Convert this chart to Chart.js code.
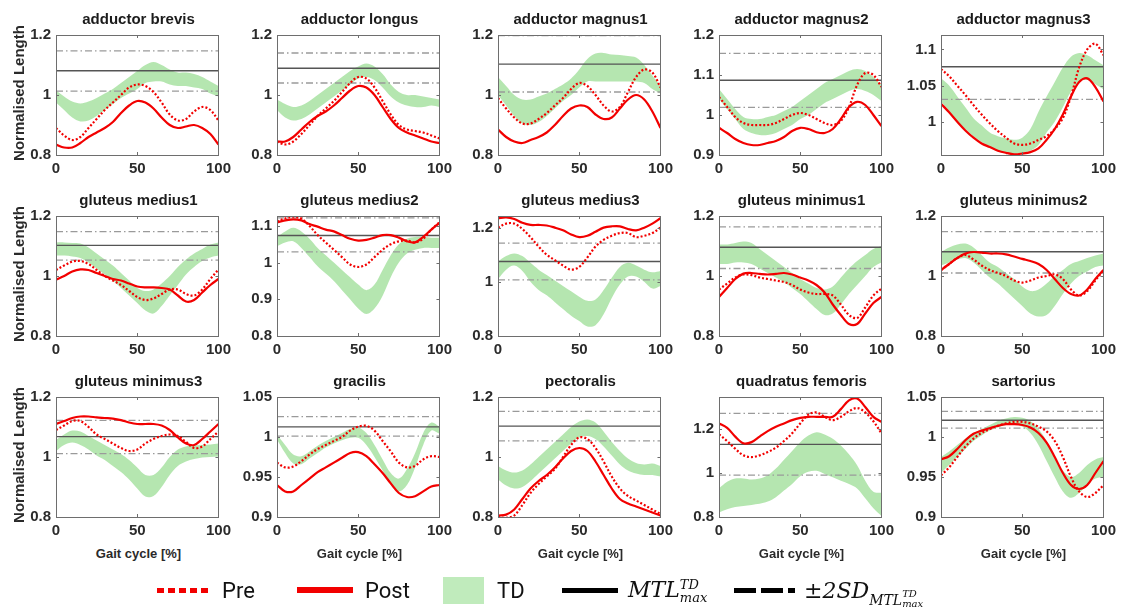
<!DOCTYPE html>
<html>
<head>
<meta charset="utf-8">
<script src="https://cdn.jsdelivr.net/npm/chart.js@4.4.0/dist/chart.umd.min.js"></script>
<style>
  html, body { margin: 0; padding: 0; background: #fff; }
  body { width: 1122px; height: 613px; position: relative; overflow: hidden;
         font-family: "Liberation Sans", Arial, sans-serif; }
  canvas { position: absolute; }
  .title { position: absolute; font-weight: bold; font-size: 15px; color: #1b1b1b;
           white-space: nowrap; transform: translate(-50%, -50%); }
  .ylab { position: absolute; font-weight: bold; font-size: 15px; color: #2a2a2a;
          white-space: nowrap; transform: translate(-50%, -50%) rotate(-90deg); }
  .xlab { position: absolute; font-weight: bold; font-size: 13px; color: #2a2a2a;
          white-space: nowrap; transform: translate(-50%, -50%); }
  .lg { position: absolute; }
  .lgtext { position: absolute; font-family: "Liberation Sans Narrow", "Roboto", sans-serif;
            font-size: 22px; color: #111; transform: translateY(-50%); white-space: nowrap; }
  .math { position: absolute; font-family: "DejaVu Serif", "Liberation Serif", serif; font-style: italic;
          font-size: 22px; color: #111; transform: translateY(-50%); white-space: nowrap; }
  .stack { display: inline-block; vertical-align: middle; line-height: 1; font-size: 13px; }
  .stack span { display: block; }
</style>
</head>
<body>
<script>
// Gait cycle sample points (% of cycle)
const gaitCycle = [0,5,10,15,20,25,30,35,40,45,50,55,60,65,70,75,80,85,90,95,100];

const muscles = [
  'adductor brevis', 'adductor longus', 'adductor magnus1', 'adductor magnus2', 'adductor magnus3',
  'gluteus medius1', 'gluteus medius2', 'gluteus medius3', 'gluteus minimus1', 'gluteus minimus2',
  'gluteus minimus3', 'gracilis', 'pectoralis', 'quadratus femoris', 'sartorius'
];

// Normalised muscle-tendon length, pre-operative
const preLength = [
  [0.89,0.865,0.85,0.86,0.89,0.92,0.95,0.975,1.0,1.025,1.035,1.03,1.01,0.975,0.935,0.915,0.92,0.945,0.96,0.95,0.915],
  [0.845,0.835,0.845,0.87,0.9,0.93,0.955,0.98,1.01,1.04,1.06,1.055,1.025,0.98,0.935,0.9,0.885,0.88,0.875,0.865,0.855],
  [0.99,0.955,0.925,0.905,0.905,0.92,0.94,0.965,0.99,1.02,1.04,1.03,1.0,0.965,0.945,0.96,1.01,1.06,1.085,1.075,1.025],
  [1.045,1.02,0.995,0.98,0.975,0.975,0.975,0.98,0.99,1.0,1.005,1.0,0.99,0.98,0.975,0.985,1.02,1.075,1.105,1.1,1.07],
  [1.073,1.063,1.05,1.037,1.023,1.01,0.998,0.987,0.978,0.97,0.968,0.97,0.975,0.98,0.99,1.005,1.035,1.075,1.1,1.108,1.092],
  [1.02,1.035,1.048,1.05,1.04,1.02,1.0,0.985,0.97,0.95,0.93,0.92,0.925,0.94,0.955,0.955,0.94,0.935,0.955,0.99,1.022],
  [1.112,1.12,1.125,1.12,1.1,1.075,1.055,1.035,1.015,0.995,0.988,0.995,1.015,1.035,1.05,1.058,1.06,1.055,1.065,1.09,1.11],
  [1.2,1.215,1.215,1.195,1.165,1.13,1.1,1.08,1.06,1.045,1.055,1.09,1.13,1.155,1.17,1.18,1.18,1.165,1.17,1.18,1.2],
  [0.955,0.975,0.995,1.005,1.003,0.995,0.99,0.985,0.98,0.97,0.955,0.945,0.94,0.94,0.935,0.905,0.87,0.86,0.895,0.935,0.958],
  [1.02,1.04,1.06,1.07,1.055,1.035,1.02,1.01,1.0,0.985,0.978,0.985,0.995,1.0,1.005,0.99,0.955,0.935,0.95,0.985,1.02],
  [1.09,1.105,1.12,1.12,1.1,1.075,1.06,1.045,1.03,1.02,1.025,1.045,1.06,1.07,1.075,1.07,1.05,1.03,1.035,1.06,1.085],
  [0.968,0.962,0.963,0.97,0.978,0.985,0.99,0.995,1.0,1.008,1.013,1.014,1.008,0.995,0.982,0.968,0.962,0.964,0.972,0.976,0.975],
  [0.8,0.797,0.805,0.84,0.88,0.91,0.935,0.96,1.0,1.04,1.065,1.06,1.03,0.985,0.935,0.895,0.87,0.855,0.84,0.825,0.81],
  [1.175,1.145,1.11,1.08,1.072,1.08,1.095,1.115,1.145,1.18,1.225,1.265,1.275,1.255,1.24,1.255,1.28,1.295,1.275,1.235,1.18],
  [0.952,0.962,0.975,0.988,0.998,1.005,1.01,1.014,1.017,1.019,1.019,1.017,1.013,1.007,0.995,0.975,0.95,0.932,0.925,0.93,0.94]
];

// Normalised muscle-tendon length, post-operative
const postLength = [
  [0.835,0.825,0.825,0.84,0.86,0.875,0.89,0.91,0.94,0.965,0.98,0.975,0.955,0.925,0.9,0.89,0.895,0.9,0.89,0.87,0.835],
  [0.845,0.845,0.86,0.885,0.91,0.93,0.945,0.965,0.99,1.015,1.03,1.025,1.0,0.96,0.92,0.89,0.875,0.865,0.855,0.845,0.84],
  [0.885,0.86,0.845,0.84,0.85,0.86,0.875,0.9,0.93,0.955,0.965,0.96,0.935,0.92,0.925,0.955,0.985,1.0,0.985,0.945,0.89],
  [0.968,0.955,0.94,0.93,0.925,0.925,0.93,0.935,0.945,0.96,0.968,0.965,0.957,0.955,0.965,0.99,1.02,1.033,1.025,1.0,0.972],
  [1.025,1.013,1.0,0.988,0.978,0.97,0.965,0.96,0.957,0.955,0.956,0.958,0.963,0.975,0.99,1.01,1.035,1.055,1.06,1.048,1.028],
  [0.988,1.0,1.015,1.022,1.02,1.01,1.0,0.99,0.985,0.975,0.965,0.962,0.962,0.96,0.955,0.935,0.915,0.92,0.945,0.97,0.99],
  [1.11,1.115,1.118,1.115,1.105,1.098,1.09,1.085,1.075,1.065,1.06,1.062,1.068,1.075,1.075,1.068,1.058,1.055,1.07,1.09,1.108],
  [1.235,1.238,1.232,1.218,1.21,1.21,1.208,1.2,1.19,1.175,1.165,1.17,1.185,1.2,1.205,1.205,1.195,1.19,1.2,1.215,1.235],
  [0.93,0.96,0.99,1.008,1.01,1.007,1.005,1.007,1.01,1.005,0.995,0.985,0.97,0.945,0.905,0.87,0.84,0.84,0.875,0.91,0.93],
  [1.02,1.04,1.06,1.075,1.08,1.078,1.075,1.075,1.072,1.065,1.057,1.05,1.04,1.02,0.99,0.96,0.94,0.935,0.955,0.99,1.02],
  [1.11,1.12,1.13,1.135,1.135,1.132,1.13,1.128,1.123,1.115,1.11,1.11,1.11,1.105,1.09,1.065,1.045,1.04,1.06,1.085,1.11],
  [0.94,0.932,0.932,0.94,0.948,0.956,0.962,0.968,0.974,0.98,0.981,0.976,0.966,0.955,0.942,0.93,0.925,0.926,0.932,0.938,0.94],
  [0.805,0.808,0.825,0.86,0.895,0.92,0.94,0.965,0.995,1.02,1.03,1.02,0.985,0.94,0.895,0.86,0.845,0.835,0.825,0.815,0.805],
  [1.225,1.205,1.165,1.135,1.14,1.165,1.19,1.21,1.225,1.24,1.25,1.255,1.255,1.255,1.255,1.29,1.33,1.338,1.3,1.255,1.232],
  [0.972,0.976,0.985,0.996,1.004,1.008,1.011,1.014,1.016,1.016,1.015,1.012,1.005,0.993,0.975,0.955,0.94,0.935,0.94,0.955,0.97]
];

// Typically developing range: upper and lower boundary of the band
const tdUpper = [
  [1.015,0.995,0.978,0.972,0.978,0.99,1.005,1.02,1.04,1.06,1.08,1.1,1.11,1.1,1.085,1.075,1.075,1.07,1.06,1.045,1.03],
  [0.985,0.97,0.96,0.965,0.98,1.0,1.02,1.04,1.06,1.08,1.095,1.105,1.095,1.07,1.035,1.01,1.0,1.0,0.995,0.99,0.985],
  [1.06,1.03,1.0,0.985,0.985,0.995,1.005,1.02,1.035,1.055,1.085,1.12,1.138,1.14,1.135,1.133,1.13,1.125,1.1,1.065,1.03],
  [1.065,1.04,1.015,0.995,0.99,0.99,0.995,1.0,1.01,1.02,1.035,1.05,1.065,1.08,1.09,1.1,1.11,1.115,1.11,1.095,1.075],
  [1.06,1.05,1.035,1.02,1.005,0.995,0.985,0.98,0.977,0.975,0.978,0.99,1.014,1.035,1.055,1.075,1.09,1.095,1.092,1.085,1.078],
  [1.112,1.112,1.11,1.108,1.095,1.075,1.055,1.035,1.01,0.985,0.96,0.95,0.955,0.975,1.0,1.03,1.055,1.075,1.09,1.105,1.112],
  [1.07,1.085,1.095,1.085,1.065,1.04,1.02,1.0,0.98,0.96,0.94,0.925,0.94,0.98,1.02,1.05,1.065,1.07,1.07,1.068,1.068],
  [1.075,1.095,1.105,1.095,1.07,1.045,1.025,1.005,0.985,0.965,0.945,0.93,0.935,0.97,1.015,1.055,1.07,1.06,1.045,1.035,1.04],
  [1.105,1.105,1.11,1.115,1.11,1.09,1.07,1.05,1.03,1.01,0.99,0.975,0.96,0.955,0.965,0.995,1.025,1.05,1.07,1.09,1.1],
  [1.08,1.095,1.105,1.108,1.095,1.07,1.045,1.03,1.01,0.99,0.965,0.95,0.955,0.975,1.0,1.02,1.04,1.05,1.06,1.068,1.075],
  [1.057,1.075,1.088,1.085,1.07,1.055,1.04,1.025,1.01,0.99,0.965,0.94,0.94,0.965,1.0,1.025,1.035,1.038,1.04,1.042,1.045],
  [1.003,0.99,0.978,0.976,0.982,0.989,0.995,1.0,1.005,1.01,1.012,1.005,0.99,0.972,0.955,0.948,0.96,0.98,1.005,1.018,1.013],
  [0.97,0.955,0.948,0.955,0.975,1.0,1.025,1.05,1.075,1.1,1.118,1.125,1.115,1.085,1.05,1.02,0.995,0.98,0.975,0.978,0.97],
  [0.93,0.96,0.975,0.975,0.97,0.975,0.99,1.02,1.06,1.1,1.14,1.17,1.185,1.175,1.155,1.125,1.085,1.035,0.965,0.915,0.91],
  [0.975,0.982,0.99,0.998,1.005,1.01,1.015,1.02,1.023,1.025,1.024,1.02,1.01,0.995,0.975,0.958,0.95,0.955,0.965,0.972,0.975]
];
const tdLower = [
  [0.975,0.95,0.925,0.912,0.915,0.93,0.95,0.97,0.99,1.005,1.02,1.04,1.045,1.045,1.035,1.03,1.03,1.025,1.02,1.005,0.995],
  [0.95,0.925,0.915,0.92,0.935,0.955,0.975,0.995,1.015,1.035,1.055,1.06,1.05,1.025,0.995,0.975,0.965,0.96,0.96,0.965,0.96],
  [1.0,0.965,0.93,0.905,0.9,0.91,0.93,0.955,0.98,1.0,1.025,1.045,1.045,1.045,1.045,1.045,1.045,1.045,1.04,1.02,1.005],
  [1.04,1.015,0.99,0.965,0.955,0.95,0.95,0.955,0.965,0.975,0.99,1.0,1.015,1.03,1.04,1.05,1.06,1.065,1.06,1.05,1.035],
  [1.028,1.015,1.0,0.99,0.98,0.972,0.965,0.96,0.957,0.955,0.957,0.96,0.968,0.985,1.0,1.02,1.042,1.055,1.058,1.052,1.045],
  [1.068,1.068,1.065,1.06,1.045,1.025,1.005,0.985,0.96,0.935,0.91,0.885,0.875,0.9,0.935,0.97,1.005,1.03,1.05,1.062,1.068],
  [1.045,1.055,1.058,1.04,1.015,0.99,0.97,0.95,0.925,0.9,0.875,0.86,0.875,0.91,0.96,1.0,1.025,1.035,1.04,1.04,1.04],
  [1.01,1.045,1.06,1.04,1.0,0.97,0.95,0.925,0.9,0.875,0.855,0.835,0.84,0.88,0.94,0.99,1.02,1.02,1.0,0.975,0.985],
  [1.04,1.04,1.045,1.045,1.04,1.025,1.01,0.995,0.98,0.96,0.94,0.915,0.89,0.87,0.875,0.905,0.94,0.97,1.0,1.03,1.045],
  [1.035,1.045,1.055,1.06,1.045,1.02,0.995,0.975,0.95,0.925,0.9,0.875,0.865,0.87,0.9,0.94,0.975,1.0,1.015,1.03,1.035],
  [1.02,1.04,1.048,1.04,1.025,1.005,0.99,0.97,0.95,0.925,0.895,0.868,0.87,0.9,0.94,0.97,0.985,0.993,0.998,1.0,1.002],
  [0.997,0.98,0.967,0.966,0.973,0.98,0.987,0.992,0.996,0.999,0.999,0.99,0.975,0.958,0.94,0.932,0.94,0.962,0.99,1.008,1.004],
  [0.925,0.905,0.895,0.9,0.92,0.945,0.97,0.995,1.02,1.045,1.065,1.07,1.06,1.035,1.005,0.975,0.955,0.945,0.94,0.94,0.935],
  [0.82,0.835,0.845,0.85,0.855,0.86,0.87,0.89,0.92,0.95,0.985,1.005,1.01,0.995,0.98,0.965,0.95,0.93,0.885,0.84,0.805],
  [0.955,0.965,0.975,0.985,0.995,1.002,1.008,1.012,1.015,1.016,1.013,1.005,0.99,0.97,0.95,0.932,0.924,0.93,0.94,0.948,0.95]
];

// Maximum TD muscle-tendon length and its +/- 2 SD limits
const mtlMax   = [1.081,1.089,1.103,1.087,1.076,1.102,1.074,1.075,1.096,1.081,1.068,1.0126,1.103,1.13,1.021];
const sdUpper  = [1.147,1.14,1.198,1.154,null,1.148,1.122,1.143,1.164,1.148,1.122,1.0255,1.152,1.271,1.032];
const sdLower  = [1.013,1.04,1.01,1.019,1.031,1.053,1.029,1.007,1.025,1.01,1.011,1.001,1.054,0.99,1.011];

// Y-axis limits and tick values per panel
const yMin = [0.8,0.8,0.8,0.9,0.954,0.8,0.8,0.8,0.8,0.8,0.8,0.9,0.8,0.8,0.9];
const yMax = [1.2,1.2,1.2,1.2,1.12,1.2,1.127,1.243,1.2,1.2,1.2,1.05,1.2,1.345,1.05];
const yTicks = [
  [0.8,1,1.2],[0.8,1,1.2],[0.8,1,1.2],[0.9,1,1.1,1.2],[1,1.05,1.1],
  [0.8,1,1.2],[0.8,0.9,1,1.1],[0.8,1,1.2],[0.8,1,1.2],[0.8,1,1.2],
  [0.8,1,1.2],[0.9,0.95,1,1.05],[0.8,1,1.2],[0.8,1,1.2],[0.9,0.95,1,1.05]
];
const xTicks = [0, 50, 100];

// ---- layout of the 3 x 5 grid ----
const colLeft = [56, 277, 498, 719, 941];
const rowTop = [31, 212, 393];
const plotW = 165, plotH = 124;
const padL = 50, padT = 10, padR = 15, xAxisH = 26;

const RED = '#f20000';
const GREEN = 'rgba(168, 226, 162, 0.85)';

// Box around each axes plus small inward tick marks
const axesBox = {
  id: 'axesBox',
  afterDatasetsDraw(chart) {
    const { ctx, chartArea: a, scales } = chart;
    ctx.save();
    ctx.strokeStyle = '#6e6e6e';
    ctx.lineWidth = 1;
    ctx.strokeRect(Math.round(a.left) + 0.5, Math.round(a.top) + 0.5,
                   Math.round(a.right - a.left), Math.round(a.bottom - a.top));
    const t = 3;
    ctx.beginPath();
    scales.y.ticks.forEach(tk => {
      const py = Math.round(scales.y.getPixelForValue(tk.value)) + 0.5;
      ctx.moveTo(a.left, py); ctx.lineTo(a.left + t, py);
      ctx.moveTo(a.right, py); ctx.lineTo(a.right - t, py);
    });
    scales.x.ticks.forEach(tk => {
      const px = Math.round(scales.x.getPixelForValue(tk.value)) + 0.5;
      ctx.moveTo(px, a.bottom); ctx.lineTo(px, a.bottom - t);
      ctx.moveTo(px, a.top); ctx.lineTo(px, a.top + t);
    });
    ctx.stroke();
    ctx.restore();
  }
};

function series(arr) { return gaitCycle.map((x, k) => ({ x: x, y: arr[k] })); }
function flat(v) { return [{ x: 0, y: v }, { x: 100, y: v }]; }
function fmt(v) { return String(+Number(v).toFixed(3)); }

const tickFont = { family: '"Liberation Sans", Arial, sans-serif', size: 15, weight: 'bold' };

muscles.forEach((name, i) => {
  const r = Math.floor(i / 5), c = i % 5;
  const left = colLeft[c], top = rowTop[r];

  const cv = document.createElement('canvas');
  const W = padL + plotW + padR, H = padT + plotH + xAxisH;
  cv.width = W; cv.height = H;
  cv.style.left = (left - padL) + 'px';
  cv.style.top = (top - padT) + 'px';
  cv.style.width = W + 'px'; cv.style.height = H + 'px';
  document.body.appendChild(cv);

  const title = document.createElement('div');
  title.className = 'title';
  title.textContent = name;
  title.style.left = (left + plotW / 2) + 'px';
  title.style.top = (top - 13) + 'px';
  document.body.appendChild(title);

  const line = { pointRadius: 0, fill: false, tension: 0 };
  const datasets = [
    { label: 'TD upper', data: series(tdUpper[i]), borderWidth: 0, borderColor: 'rgba(0,0,0,0)',
      pointRadius: 0, fill: false, tension: 0.35, order: 6 },
    { label: 'TD', data: series(tdLower[i]), borderWidth: 0, borderColor: 'rgba(0,0,0,0)',
      backgroundColor: GREEN, pointRadius: 0, fill: '-1', tension: 0.35, order: 5 },
    { label: 'MTL max', data: flat(mtlMax[i]), borderColor: '#555555', borderWidth: 1.4, ...line, order: 3 },
    { label: '-2SD', data: flat(sdLower[i]), borderColor: '#9a9a9a', borderWidth: 1.3,
      borderDash: [7, 3, 1.5, 3], ...line, order: 4 }
  ];
  if (sdUpper[i] !== null) {
    datasets.push({ label: '+2SD', data: flat(sdUpper[i]), borderColor: '#9a9a9a', borderWidth: 1.3,
      borderDash: [7, 3, 1.5, 3], ...line, order: 4 });
  }
  datasets.push(
    { label: 'Pre', data: series(preLength[i]), borderColor: RED, borderWidth: 2.2,
      borderDash: [2, 2], pointRadius: 0, fill: false, tension: 0.35, order: 1 },
    { label: 'Post', data: series(postLength[i]), borderColor: RED, borderWidth: 2.2,
      pointRadius: 0, fill: false, tension: 0.35, order: 0 }
  );

  new Chart(cv, {
    type: 'line',
    data: { datasets },
    options: {
      responsive: false,
      animation: false,
      devicePixelRatio: 1,
      layout: { padding: { left: 0, top: padT, right: padR, bottom: 0 } },
      plugins: { legend: { display: false }, tooltip: { enabled: false }, title: { display: false } },
      scales: {
        x: {
          type: 'linear', min: 0, max: 100,
          grid: { display: false, drawTicks: false },
          border: { display: false },
          afterBuildTicks: s => { s.ticks = xTicks.map(v => ({ value: v })); },
          afterFit: s => { s.height = xAxisH; },
          ticks: { font: tickFont, color: '#2b2b2b', padding: 5, maxRotation: 0, autoSkip: false,
                   callback: v => fmt(v) }
        },
        y: {
          type: 'linear', min: yMin[i], max: yMax[i],
          grid: { display: false, drawTicks: false },
          border: { display: false },
          afterBuildTicks: s => { s.ticks = yTicks[i].map(v => ({ value: v })); },
          afterFit: s => { s.width = padL; },
          ticks: { font: tickFont, color: '#2b2b2b', padding: 5, autoSkip: false,
                   callback: v => fmt(v) }
        }
      }
    },
    plugins: [axesBox]
  });
});

// Axis titles
rowTop.forEach(t => {
  const d = document.createElement('div');
  d.className = 'ylab';
  d.textContent = 'Normalised Length';
  d.style.left = '18px';
  d.style.top = (t + plotH / 2) + 'px';
  document.body.appendChild(d);
});
colLeft.forEach(l => {
  const d = document.createElement('div');
  d.className = 'xlab';
  d.textContent = 'Gait cycle [%]';
  d.style.left = (l + plotW / 2) + 'px';
  d.style.top = '553px';
  document.body.appendChild(d);
});

// Legend
const LY = 590;
function box(x, w, h, bg) {
  const d = document.createElement('div');
  d.className = 'lg';
  d.style.left = x + 'px'; d.style.top = (LY - h / 2) + 'px';
  d.style.width = w + 'px'; d.style.height = h + 'px';
  d.style.background = bg;
  document.body.appendChild(d);
}
function text(x, html, cls) {
  const d = document.createElement('div');
  d.className = cls || 'lgtext';
  d.style.left = x + 'px'; d.style.top = LY + 'px';
  d.innerHTML = html;
  document.body.appendChild(d);
}
// dotted red
for (let k = 0; k < 5; k++) box(157 + k * 11, 7, 5, RED);
text(222, 'Pre');
box(297, 56, 6, RED);
text(365, 'Post');
box(443, 41, 27, 'rgb(192, 235, 188)');
text(497, 'TD');
box(562, 56, 5, '#000');
text(628, 'MTL<span class="stack"><span>TD</span><span>max</span></span>', 'math');
box(734, 22, 5, '#000');
box(761, 22, 5, '#000');
box(788, 7, 5, '#000');
text(804, '±2SD<span style="font-size:14px;position:relative;top:7px">MTL</span><span class="stack" style="position:relative;top:7px;font-size:10px"><span>TD</span><span>max</span></span>', 'math');
</script>
</body>
</html>
